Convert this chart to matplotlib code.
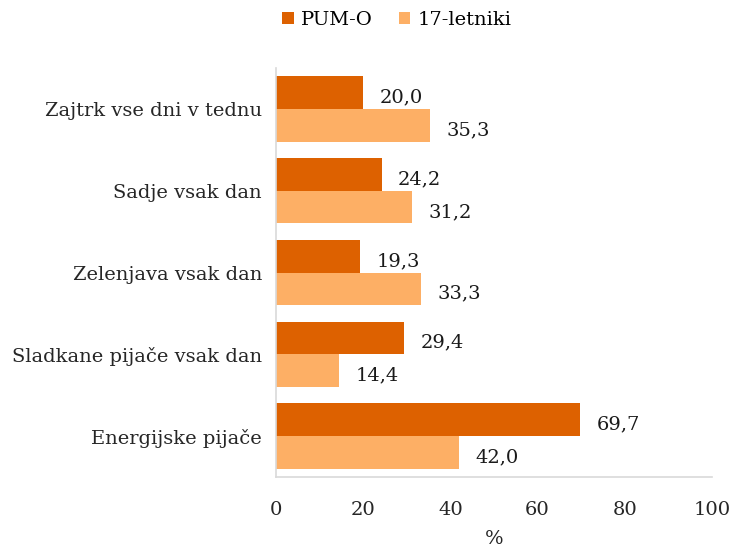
import matplotlib
matplotlib.use("Agg")
import matplotlib.pyplot as plt
import numpy as np

categories = ["Zajtrk vse dni v tednu", "Sadje vsak dan", "Zelenjava vsak dan",
              "Sladkane pijače vsak dan", "Energijske pijače"]
pum_o = [20.0, 24.2, 19.3, 29.4, 69.7]
letniki17 = [35.3, 31.2, 33.3, 14.4, 42.0]
series_names = ["PUM-O", "17-letniki"]
xticks = [0, 20, 40, 60, 80, 100]

plt.rcParams['font.family'] = ['DejaVu Serif']
fs = 14
c_dark = "#DD6100"
c_light = "#FDAF65"

fig = plt.figure(figsize=(7.31, 5.5), dpi=100)
ax = fig.add_axes([276/731, 73/550, 436/731, 409/550])

n = len(categories)
y = np.arange(n)
h = 0.4
ax.barh(y - h/2, pum_o, height=h, color=c_dark, label=series_names[0])
ax.barh(y + h/2, letniki17, height=h, color=c_light, label=series_names[1])

def fmt(v):
    return f"{v:.1f}".replace(".", ",")

for yi, v in zip(y, pum_o):
    ax.text(v + 3.8, yi - h/2 + 0.06, fmt(v), va="center", ha="left", fontsize=fs, color="#1a1a1a")
for yi, v in zip(y, letniki17):
    ax.text(v + 3.8, yi + h/2 + 0.06, fmt(v), va="center", ha="left", fontsize=fs, color="#1a1a1a")

ax.set_ylim(n - 0.5, -0.5)
ax.set_xlim(0, 100)
ax.set_yticks(y)
ax.set_yticklabels(categories, fontsize=fs, color="#262626")
ax.set_xticks(xticks)
ax.set_xticklabels([str(t) for t in xticks], fontsize=fs, color="#262626")
ax.tick_params(axis="both", length=0)
ax.tick_params(axis="x", pad=17)
ax.tick_params(axis="y", pad=10)
ax.set_xlabel("%", fontsize=fs, color="#262626", labelpad=8)

for s in ["top", "right"]:
    ax.spines[s].set_visible(False)
for s in ["left", "bottom"]:
    ax.spines[s].set_color("#D9D9D9")
    ax.spines[s].set_linewidth(1.2)

fig.legend(loc="upper center", bbox_to_anchor=(0.543, 1.012), ncol=2, frameon=False,
           fontsize=fs, handlelength=0.6, handleheight=0.6, handletextpad=0.4,
           columnspacing=1.3)

fig.savefig("out.png", dpi=100)
